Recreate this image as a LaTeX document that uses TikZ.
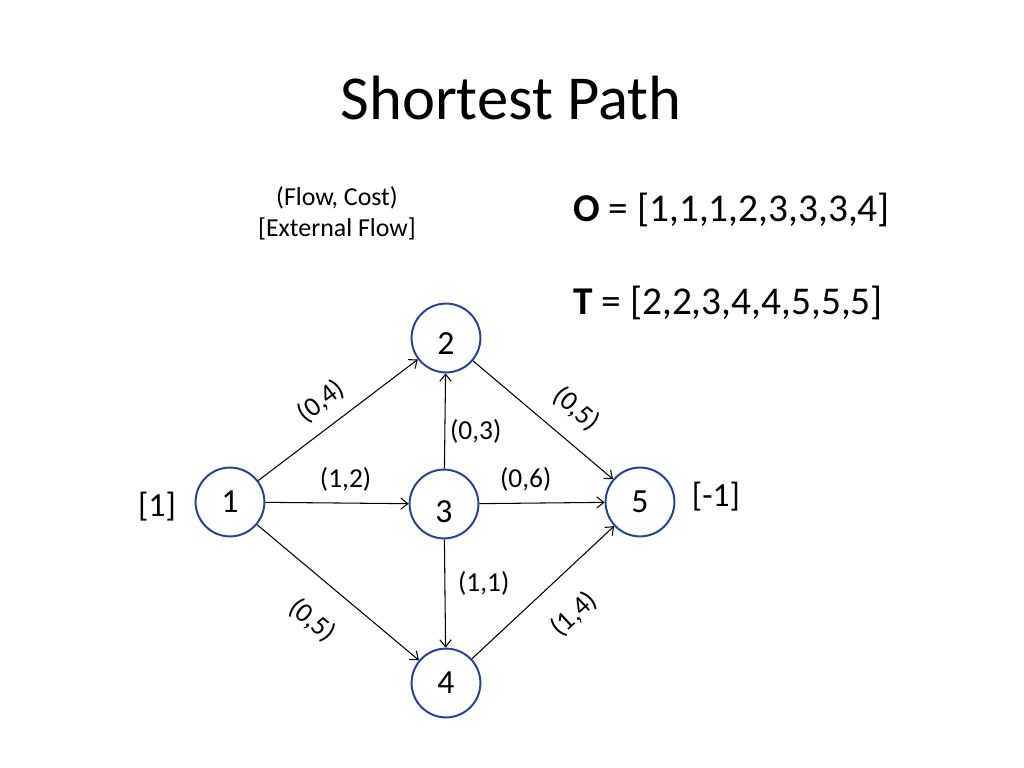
\documentclass[tikz,border=0pt]{standalone}
\usepackage{fontspec}
\setmainfont{Carlito}
\usetikzlibrary{arrows.meta}
\definecolor{nodeblue}{RGB}{35,68,150}

\begin{document}
\begin{tikzpicture}[x=0.025cm, y=-0.025cm,
	vertex/.style={circle, draw=nodeblue, line width=1.4pt, minimum size=1.72cm, inner sep=0pt, font=\fontsize{24}{28}\selectfont},
	lbl/.style={font=\fontsize{19.5}{22}\selectfont},
	>={Straight Barb[length=5pt,width=8pt]}, line width=0.75pt]
	\useasboundingbox (0,0) rectangle (1024,768);
	
	\node[font=\fontsize{44.5}{52}\selectfont] (title) at (511,98) {Shortest Path};
	\node[align=center, font=\fontsize{18.4}{22}\selectfont] (legend) at (337,213) {(Flow, Cost)\\{}[External Flow]};
	\node[anchor=west, font=\fontsize{28}{32}\selectfont] (O) at (568,210) {\textbf{O} = [1,1,1,2,3,3,3,4]};
	\node[anchor=west, font=\fontsize{28}{32}\selectfont] (T) at (568,303) {\textbf{T} = [2,2,3,4,4,5,5,5]};
	
	\node[vertex] (n1) at (230,502) {1};
	\node[vertex, text height=23pt, text depth=0pt] (n2) at (446,338) {2};
	\node[vertex, text height=26pt, text depth=0pt] (n3) at (444,504) {3};
	\node[vertex] (n4) at (446,683) {4};
	\node[vertex] (n5) at (640,502) {5};
	
	\node[font=\fontsize{24}{28}\selectfont] (ext1) at (157,507) {[1]};
	\node[font=\fontsize{24}{28}\selectfont] (ext5) at (716,497) {[-1]};
	
	\draw [->](n1) -- (n2) node [lbl, pos=0.49, above=0.2cm, sloped]{(0,4)};
	\draw [->](n1) -- (n3) node [lbl, pos=0.56, above=0.17cm]{(1,2)};
	\draw [->](n1) -- (n4) node [lbl, pos=0.49, below=0.52cm, sloped]{(0,5)};
	\draw [->](n3) -- (n2) node [lbl, pos=0.39, right]{(0,3)};
	\draw [->](n2) -- (n5) node [lbl, pos=0.6, above=0.33cm, sloped]{(0,5)};
	\draw [->](n3) -- (n5) node [lbl, pos=0.37, above=0.17cm]{(0,6)};
	\draw [->](n3) -- (n4) node [lbl, pos=0.41, right=0.2cm]{(1,1)};
	\draw [->](n4) -- (n5) node [lbl, pos=0.54, below=0.5cm, sloped]{(1,4)};
\end{tikzpicture}
\end{document}
